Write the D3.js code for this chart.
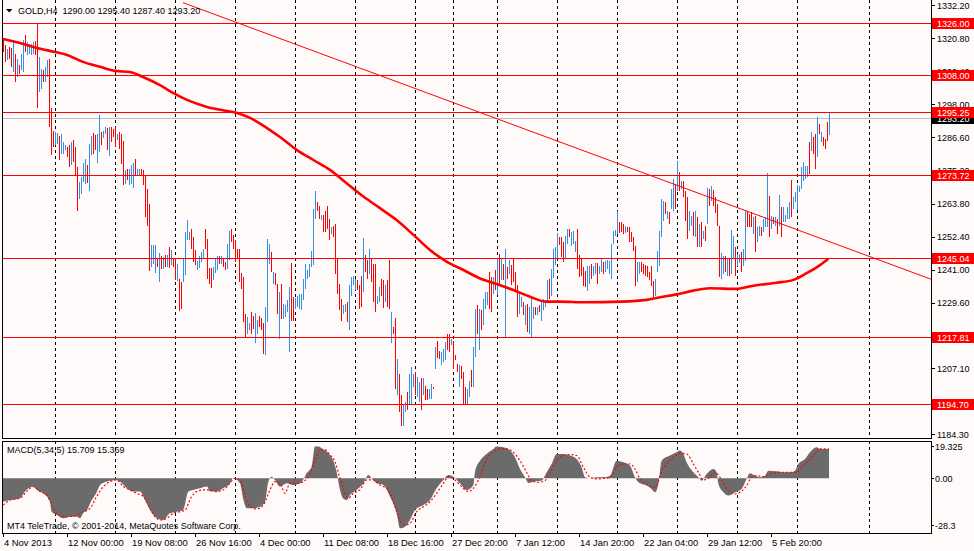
<!DOCTYPE html>
<html>
<head>
<meta charset="utf-8">
<script src="https://cdn.jsdelivr.net/npm/d3@7"></script>
<style>
html, body { margin: 0; padding: 0; background: #fffafa; }
svg { display: block; font-family: "Liberation Sans", Arial, sans-serif; }
</style>
</head>
<body>
<svg id="chart" width="974" height="551"></svg>
<script>
// GOLD H4 bars, one entry per bar (high, low, 1 = up bar / 0 = down bar)
const barHigh = [
  1320.6,1318.3,1317.2,1317.7,1317.4,1319.5,1315.4,1313.7,1311.4,1315.4,
  1320.0,1322.0,1319.5,1318.9,1318.9,1319.5,1319.8,1325.8,1314.3,1310.3,
  1309.7,1310.9,1313.1,1313.7,1296.7,1288.7,1288.5,1288.2,1287.1,1287.9,
  1285.0,1283.9,1283.3,1283.9,1285.0,1285.6,1283.3,1276.4,1271.2,1273.0,
  1277.6,1279.3,1277.0,1284.4,1287.1,1288.1,1287.3,1287.9,1294.4,1288.5,
  1288.7,1290.2,1289.9,1290.2,1290.2,1289.6,1290.2,1287.9,1288.5,1287.9,
  1285.3,1275.3,1275.8,1275.8,1277.0,1277.6,1279.1,1275.6,1275.6,1275.8,
  1275.3,1273.5,1268.7,1263.6,1249.4,1249.4,1249.4,1244.8,1246.9,1245.8,
  1245.4,1246.0,1246.2,1248.9,1247.7,1244.8,1244.8,1242.8,1237.9,1236.8,
  1245.1,1254.0,1258.0,1254.0,1255.2,1252.3,1247.9,1244.0,1245.8,1247.1,
  1248.3,1254.9,1251.5,1241.6,1241.6,1242.0,1244.8,1245.8,1245.8,1245.8,
  1244.8,1243.7,1250.0,1254.4,1254.9,1252.9,1251.2,1248.3,1248.3,1239.7,
  1238.5,1225.6,1224.8,1222.5,1226.5,1225.0,1226.2,1223.6,1225.1,1224.2,
  1222.5,1228.2,1251.7,1250.0,1247.1,1240.3,1239.7,1236.2,1233.4,1236.2,
  1229.3,1228.7,1230.4,1235.0,1243.4,1231.6,1231.2,1232.1,1232.7,1232.7,
  1237.9,1243.0,1240.8,1243.0,1247.6,1262.0,1268.0,1264.3,1263.1,1259.9,
  1259.9,1261.4,1263.1,1258.5,1255.7,1256.0,1256.8,1245.0,1236.2,1231.0,
  1228.9,1229.3,1229.8,1235.6,1238.5,1238.8,1237.9,1237.3,1235.6,1239.0,
  1252.0,1246.1,1244.2,1248.2,1244.8,1243.0,1243.0,1232.1,1235.0,1237.9,
  1237.3,1235.6,1237.3,1244.4,1226.4,1221.2,1224.5,1210.3,1205.2,1197.7,
  1194.8,1195.4,1198.9,1205.2,1207.5,1205.2,1205.7,1204.0,1202.3,1203.7,
  1203.7,1201.1,1200.0,1200.0,1201.7,1200.6,1214.3,1216.3,1213.0,1212.6,
  1213.8,1216.1,1218.9,1218.9,1217.2,1216.6,1211.5,1208.6,1208.3,1207.7,
  1205.7,1200.6,1200.0,1202.5,1206.3,1214.3,1227.6,1228.7,1227.6,1227.0,
  1231.0,1233.3,1233.3,1240.2,1238.5,1238.5,1240.8,1245.1,1246.5,1244.8,
  1243.0,1248.2,1241.9,1244.2,1242.5,1245.1,1240.2,1235.6,1233.3,1231.6,
  1229.8,1228.7,1229.3,1228.1,1232.1,1228.1,1228.1,1228.1,1228.7,1229.8,
  1231.0,1230.4,1237.3,1237.9,1241.3,1248.2,1248.8,1253.6,1252.2,1252.2,
  1250.4,1252.7,1255.0,1255.0,1253.9,1254.4,1251.0,1255.0,1246.1,1244.9,
  1241.8,1240.7,1242.4,1242.4,1243.0,1242.4,1243.2,1243.3,1242.4,1244.7,
  1243.5,1244.1,1244.5,1244.1,1249.9,1254.4,1254.8,1261.1,1257.3,1257.3,
  1256.7,1255.9,1255.6,1255.6,1254.1,1252.2,1249.3,1243.5,1243.5,1243.5,
  1243.0,1242.7,1242.4,1240.1,1242.4,1237.2,1237.8,1247.6,1254.4,1265.4,
  1264.8,1264.2,1261.3,1260.8,1268.8,1272.3,1270.5,1278.6,1274.5,1271.7,
  1271.7,1268.2,1265.9,1261.3,1259.6,1260.8,1261.3,1259.0,1256.7,1257.3,
  1254.4,1256.2,1269.0,1268.8,1269.7,1268.4,1265.9,1263.6,1256.2,1246.7,
  1245.8,1245.8,1244.7,1244.7,1254.8,1252.7,1248.7,1246.4,1246.4,1247.0,
  1248.2,1261.3,1261.3,1260.2,1261.0,1259.0,1259.6,1255.6,1256.2,1255.6,
  1258.5,1259.0,1274.3,1266.3,1259.4,1259.0,1259.0,1258.5,1266.7,1262.5,
  1262.5,1259.9,1262.5,1264.2,1271.9,1265.9,1267.7,1270.2,1269.9,1276.3,
  1278.0,1276.8,1276.8,1284.9,1288.3,1286.6,1287.7,1293.5,1291.2,1288.3,
  1286.6,1286.0,1292.0,1295.4
];
const barLow = [
  1316.0,1312.6,1313.1,1313.7,1310.9,1309.1,1305.7,1307.4,1308.6,1309.7,
  1309.1,1316.0,1314.9,1315.4,1314.9,1315.4,1314.9,1296.7,1302.2,1303.4,
  1305.7,1305.7,1307.4,1290.2,1280.4,1283.3,1283.9,1284.4,1278.7,1281.0,
  1281.0,1282.2,1279.9,1276.4,1277.0,1278.1,1273.5,1261.1,1265.5,1267.2,
  1271.2,1270.7,1271.0,1268.0,1280.4,1281.0,1282.2,1277.9,1281.6,1283.9,
  1286.4,1287.9,1282.2,1280.2,1285.0,1286.7,1283.3,1285.6,1282.7,1277.3,
  1270.1,1270.7,1271.8,1270.1,1270.7,1269.0,1273.5,1273.3,1273.5,1273.3,
  1270.1,1259.2,1256.1,1240.5,1242.0,1243.1,1239.7,1242.0,1236.8,1241.2,
  1241.4,1242.0,1242.0,1241.6,1242.5,1242.0,1237.3,1237.0,1226.8,1227.4,
  1236.8,1239.3,1251.2,1251.2,1248.3,1243.7,1242.5,1240.8,1241.6,1243.7,
  1244.8,1248.3,1237.7,1236.2,1234.7,1237.4,1239.7,1240.8,1242.8,1243.1,
  1242.0,1240.8,1241.2,1244.3,1250.6,1248.3,1243.7,1244.8,1236.8,1234.5,
  1223.0,1217.9,1219.0,1220.2,1219.0,1220.7,1215.6,1219.0,1221.3,1220.2,
  1212.1,1211.6,1223.0,1243.1,1240.3,1236.2,1235.7,1225.9,1217.3,1224.1,
  1224.1,1224.7,1226.4,1212.6,1223.5,1223.2,1227.6,1228.1,1227.6,1227.0,
  1230.4,1234.4,1237.9,1238.5,1241.9,1242.5,1258.5,1261.4,1258.5,1258.0,
  1254.0,1254.0,1255.1,1251.1,1253.4,1252.2,1239.6,1232.7,1227.0,1223.5,
  1225.8,1226.4,1223.0,1220.4,1232.1,1235.6,1233.9,1233.9,1227.3,1228.1,
  1233.3,1240.2,1237.9,1239.6,1236.7,1229.8,1226.6,1229.3,1229.8,1232.1,
  1227.8,1229.8,1228.1,1227.3,1215.8,1218.9,1200.0,1197.7,1192.0,1187.1,
  1187.1,1192.0,1192.5,1194.3,1194.8,1200.6,1197.7,1197.1,1195.4,1192.5,
  1197.7,1196.0,1196.0,1196.6,1196.6,1200.0,1206.9,1210.6,1210.3,1208.3,
  1209.2,1209.8,1213.2,1212.6,1214.9,1206.9,1209.8,1205.7,1200.6,1203.4,
  1194.8,1194.8,1194.3,1197.1,1200.6,1200.6,1210.9,1218.9,1213.5,1220.1,
  1221.8,1227.6,1228.7,1227.6,1226.4,1232.7,1233.9,1232.4,1235.6,1237.3,
  1237.3,1217.8,1237.9,1239.6,1235.6,1236.7,1233.3,1224.7,1225.8,1228.1,
  1225.3,1221.8,1219.5,1218.9,1217.8,1224.1,1225.3,1225.3,1226.4,1223.2,
  1227.0,1228.1,1229.8,1231.0,1232.1,1238.1,1242.5,1244.8,1249.4,1245.3,
  1243.5,1244.7,1249.9,1252.2,1249.3,1249.9,1247.0,1241.2,1238.4,1239.0,
  1235.5,1234.9,1233.8,1236.1,1237.8,1239.0,1239.5,1236.1,1239.5,1240.1,
  1239.5,1240.1,1241.2,1239.5,1237.8,1249.9,1252.7,1253.3,1253.6,1253.9,
  1253.3,1253.6,1253.9,1250.4,1250.4,1247.6,1235.5,1236.7,1239.5,1240.1,
  1239.5,1239.0,1238.4,1237.5,1235.5,1231.5,1232.1,1240.1,1242.4,1252.2,
  1257.9,1260.2,1258.5,1256.7,1261.9,1261.3,1261.9,1268.2,1268.2,1268.8,
  1265.9,1257.9,1251.6,1254.4,1256.2,1252.7,1252.2,1248.7,1248.7,1248.7,
  1251.6,1251.0,1256.7,1263.0,1264.8,1263.0,1260.5,1256.2,1238.4,1237.8,
  1239.5,1240.1,1238.7,1239.0,1239.5,1244.7,1239.0,1242.4,1243.3,1240.1,
  1242.4,1244.1,1255.6,1255.6,1255.6,1253.3,1247.0,1250.4,1252.7,1252.7,
  1253.9,1255.6,1255.6,1252.2,1255.0,1256.7,1256.2,1253.3,1256.2,1252.2,
  1257.3,1257.3,1258.5,1258.5,1259.0,1261.9,1264.2,1261.7,1267.7,1268.8,
  1271.7,1272.3,1272.8,1274.0,1282.0,1280.8,1275.7,1279.7,1287.7,1284.9,
  1283.7,1282.6,1285.4,1287.4
];
const barUp = [
  0,0,1,0,0,1,0,1,0,1, 1,0,1,1,1,1,0,0,1,1, 0,1,1,0,0,0,1,1,0,1,
  1,1,0,0,1,0,0,0,1,1, 1,1,0,1,1,0,0,1,1,0, 1,1,0,1,0,0,0,1,0,0,
  0,1,0,1,1,1,0,1,1,0, 0,0,0,0,1,1,1,0,1,0, 1,0,1,0,1,0,0,1,0,0,
  1,1,1,1,0,0,0,1,1,1, 1,0,0,0,0,1,1,1,0,1, 0,0,1,1,0,0,0,0,0,0,
  0,0,1,1,0,0,1,1,0,0, 0,1,1,1,0,1,0,0,1,0, 1,1,1,1,0,0,1,1,1,1,
  1,1,1,1,1,1,1,0,0,1, 0,0,0,0,1,0,0,0,0,0, 1,1,0,1,1,1,1,0,0,0,
  1,0,0,1,0,0,0,1,1,0, 0,1,0,0,1,0,0,1,0,0, 1,1,0,1,1,1,0,1,1,0,
  1,0,0,1,1,0,1,0,0,1, 1,1,0,0,1,0,0,0,1,0, 0,0,1,1,0,1,1,0,1,0,
  1,1,1,0,0,1,0,1,0,1, 0,1,0,1,0,0,0,0,1,1, 0,1,0,1,1,1,0,1,0,1,
  1,1,1,0,1,1,1,1,0,0, 0,1,1,0,1,1,1,0,0,0, 0,0,1,1,0,1,1,0,1,1,
  0,1,1,1,1,1,1,1,0,0, 0,1,0,0,0,0,0,1,1,0, 0,0,0,0,0,0,1,1,1,1,
  1,0,1,0,1,1,0,1,0,1, 0,0,0,1,1,0,1,0,1,0, 1,0,1,0,1,0,0,0,0,1,
  1,0,1,0,1,1,0,1,1,0, 1,1,0,0,0,1,0,1,1,0, 1,1,1,0,1,0,1,0,1,0,
  1,1,1,1,0,1,1,1,1,1, 1,1,1,0,1,0,0,1,0,1, 0,0,0,1
];

// 55-period moving average, read at sample bars
const maIdx = [0,8.5,17,26,32,40,48.5,56,63.5,70,78.5,85,92,102,112,117,123.5,132,138.5,
  146.8,155.2,163.5,171.8,180.2,188.5,196.8,205.2,213.5,221.8,230.2,238.5,246.8,255.2,263.5,271.8,278.5,
  291,309.3,321.8,328.5,336.8,345.2,353.5,366.8,375.2,386.8,395.2,401.8,408.5,412.7];
const maVal = [1320.5,1319.1,1317.4,1316.0,1315.0,1312.6,1310.9,1309.5,1309.1,1307.4,1304.6,1301.9,1299.5,1297.1,1295.7,1295.0,1293.3,1289.8,1286.7,
  1282.3,1278.8,1275.4,1270.8,1266.2,1262.2,1258.1,1253.0,1247.8,1243.8,1240.9,1238.0,1236.1,1234.0,1231.7,1230.0,1230.0,
  1229.8,1230.0,1230.6,1231.5,1232.5,1233.8,1234.6,1234.4,1235.5,1236.5,1237.5,1239.8,1242.6,1244.8];

// trend line anchors (bar index, price)
const trendIdx = [90, 433.5];
const trendVal = [1333.0, 1245.5];

// horizontal levels
const levels = [1326.00, 1308.00, 1295.25, 1273.72, 1245.04, 1217.81, 1194.70];
const bidPrice = 1293.20;
// 1218.20 sits fully under the 1217.81 tag, so it is not listed
const priceTicks = [1332.20,1320.80,1309.40,1298.00,1286.60,1275.20,1263.80,1252.40,1241.00,1229.60,1207.10,1195.70,1184.30];

// MACD(5,34,5) histogram and signal, read at sample bars
const macdIdx = [0,3.5,8.5,11,15,17,20,23.5,24.3,27,30,33.5,37,38.5,40,42,43.5,47,48.5,52,56,58.5,62,65,68.5,71,73.5,77,80,83.5,87,90,92.7,95,98.5,
  102,103.5,107,110,113.5,115,118.5,120,122,125,128.5,131,132.7,134.3,136,138.5,141.8,145,148.5,150,151.8,154.3,156,157.7,159.3,162.7,165,166.8,168.5,170,171.8,173.5,176.8,
  180.2,182.7,184.3,186.8,190.2,193.5,196.8,198.5,201,203.5,206,210.2,213.5,216.8,220.2,222.7,225.2,228.5,231.8,235.2,236,
  238.5,241.8,245.2,246.8,250.2,253.5,256,258.5,261,262.7,266,269.3,271.8,274.3,276.8,280.2,283.5,286.8,289.3,291,293.5,296.8,300.2,303.5,306.8,310.2,313.5,316,317.7,
  321.8,324.3,326,327.7,329.3,333.5,336.8,338.5,340.2,341.8,345.2,347.7,349.3,351.8,355.2,356.8,357.7,360.2,362.7,366,369.3,371.8,373.5,376,378.5,381,382.7,386.8,390.2,393.5,396,397.7,401,403.5,406.8,408.5,411,413];
const macdVal = [-14.1,-13.1,-12.0,-8.0,-5.0,-7.0,-9.0,-14.1,-20.1,-22.1,-24.1,-23.1,-23.1,-24.1,-21.1,-19.1,-15.1,-8.0,-4.0,-2.0,-1.0,-2.0,-6.0,-8.0,-8.0,-13.1,-19.1,-24.1,-25.1,-21.1,-20.1,-19.1,-8.0,-7.0,-6.0,
  -5.0,-8.0,-8.0,-6.0,-3.0,0,-3.0,-12.0,-18.1,-18.1,-17.1,-14.1,-2.0,1.0,-1.0,-5.0,-3.0,-4.0,-3.0,-1.0,3.0,7.0,19.1,19.1,18.1,15.1,11.0,4.0,-7.0,-12.0,-13.1,-10.0,-7.0,
  -3.0,2.0,0,-3.0,-4.0,-11.0,-21.1,-30.1,-29.1,-25.1,-19.1,-16.1,-13.1,-6.0,-1.0,2.0,1.0,-3.0,-7.0,-4.0,4.0,
  10.6,14.7,17.7,19.1,18.7,16.7,12.7,5.6,0.6,-2.8,-1.8,-1.4,3.6,8.6,14.7,14.7,13.7,11.6,6.6,0.6,0,0.6,0.6,1.6,10.6,9.6,7.6,0.6,-2.4,
  -4.4,-6.4,-8.4,-3.4,10.6,13.7,15.7,16.7,14.7,9.6,3.6,0.6,-1.4,2.6,5.6,3.6,-3.4,-8.4,-10.4,-8.4,-6.4,-0.4,3.0,1.6,0.6,1.6,4.6,4.2,3.6,3.6,4.6,8.6,11.6,15.7,18.7,17.7,17.7,17.7];
const signalIdx = [0,3.5,8.5,11.8,15.2,18.5,21.8,25.2,27.7,31.8,36.8,40.2,43.5,46.8,50.2,53.5,56.8,60.2,63.5,66.8,70.2,73.5,76.8,78.5,81.8,85.2,88.5,91,94.3,96.8,
  100.2,103.5,106.8,110.2,113.5,116,118.5,121,123.5,126.8,130.2,133.5,136,138.5,141,143.5,146.8,150.2,153.5,156,158.5,161,163.5,166,168.5,171,172.7,175.2,178.5,
  181.8,185.2,188.5,192.7,196,198.5,201,203.5,206.8,210.2,213.5,216.8,220.2,222.7,226,229.3,232.7,235.2,238.5,
  241.8,245.2,248.5,251.8,255.2,258.5,261.8,264.3,267.7,271,273.5,276.8,280.2,283.5,286.8,290.2,293.5,296.8,300.2,303.5,306.8,310.2,313.5,316,318.5,
  321.8,325.2,326.8,329.3,331.8,335.2,338.5,341.8,345.2,347.7,350.2,353.5,356,358.5,361.8,365.2,368.5,371.8,374.3,376.8,380.2,383.5,388.5,393.5,396.8,399.3,402.7,406,408.5,413];
const signalVal = [-16.1,-13.1,-12.0,-8.0,-5.0,-8.0,-10.0,-18.1,-22.1,-23.1,-22.1,-20.1,-18.1,-11.0,-5.0,-2.0,-1.0,-5.0,-7.0,-9.0,-11.0,-18.1,-24.1,-25.1,-24.1,-21.1,-20.1,-19.1,-11.0,-8.0,
  -7.0,-7.0,-8.0,-7.0,-3.0,0,-1.0,-10.0,-17.1,-18.5,-16.1,-7.0,-2.0,-3.0,-9.0,-3.0,-3.0,-2.0,3.0,11.0,17.1,17.1,14.1,10.0,0,-9.0,-12.0,-9.0,-7.0,
  -1.0,-1.0,-4.0,-7.0,-17.1,-25.1,-28.1,-27.1,-20.1,-17.1,-14.1,-9.0,-3.0,1.0,-1.0,-5.0,-8.0,-6.0,1.0,
  11.6,15.7,17.7,17.7,15.7,10.6,3.6,-1.4,-2.4,-1.4,3.6,10.6,13.7,14.3,13.7,6.6,0.6,-0.4,0,0.6,6.6,8.6,8.6,5.6,-0.4,
  -3.4,-5.4,-4.4,4.6,8.6,12.7,15.1,14.7,8.6,3.6,-1.0,0.6,3.6,0.6,-6.4,-9.4,-8.4,-4.4,0.6,1.6,1.0,2.6,3.6,3.6,3.6,6.6,10.6,14.7,17.7,17.7];
const macdTicks = [19.325, 0, -28.3];
const macdTickText = ["19.325", "0.00", "-28.3"];

// time axis
const gridIdx = [26,56,86,116,146,176,206,225,247,277,307,337,367,397,433];
const timeIdx = [0,32,64,96,128,160,192,224,256,288,320,352,384];
const timeText = ["4 Nov 2013","12 Nov 00:00","19 Nov 08:00","26 Nov 16:00","4 Dec 00:00","11 Dec 08:00",
  "18 Dec 16:00","27 Dec 20:00","7 Jan 12:00","14 Jan 20:00","22 Jan 04:00","29 Jan 12:00","5 Feb 20:00"];

const UP = "#3490e4", DOWN = "#ff0000", HLINE = "#ff0000";

const svg = d3.select("#chart");
const left = 2, right = 931;
const priceTop = 0, priceBottom = 438;
const macdTop = 441, macdBottom = 533;

const x = d3.scaleLinear().domain([0, 413]).range([3, 829]);
const y = d3.scaleLinear().domain([1184.3, 1332.2]).range([434.3, 5]);
const ym = d3.scaleLinear().domain([0, 19.325]).range([478.3, 446.2]);
const px = v => Math.round(v) + 0.5;

svg.append("rect").attr("width", 974).attr("height", 551).attr("fill", "#fffafa");

const defs = svg.append("defs");
defs.append("clipPath").attr("id", "clipPrice").append("rect")
  .attr("x", left + 1).attr("y", priceTop).attr("width", right - left - 1).attr("height", priceBottom - priceTop);
defs.append("clipPath").attr("id", "clipMacd").append("rect")
  .attr("x", left + 1).attr("y", macdTop + 1).attr("width", right - left - 1).attr("height", macdBottom - macdTop - 1);

const pricePanel = svg.append("g").attr("clip-path", "url(#clipPrice)");
const macdPanel = svg.append("g").attr("clip-path", "url(#clipMacd)");

// vertical dashed grid
[[pricePanel, priceTop, priceBottom], [macdPanel, macdTop, macdBottom]].forEach(([g, t, b]) => {
  g.selectAll(".grid").data(gridIdx).enter().append("line")
    .attr("x1", d => px(x(d))).attr("x2", d => px(x(d)))
    .attr("y1", t).attr("y2", b)
    .attr("stroke", "#000").attr("stroke-dasharray", "3,3")
    .attr("shape-rendering", "crispEdges");
});

// bid line
pricePanel.append("line")
  .attr("x1", left).attr("x2", right)
  .attr("y1", px(y(bidPrice))).attr("y2", px(y(bidPrice)))
  .attr("stroke", "#c0c0c0").attr("shape-rendering", "crispEdges");

// price bars
const bars = d3.range(barHigh.length);
pricePanel.selectAll(".bar").data(bars).enter().append("line")
  .attr("x1", i => px(x(i))).attr("x2", i => px(x(i)))
  .attr("y1", i => Math.round(y(barHigh[i])))
  .attr("y2", i => Math.max(Math.round(y(barLow[i])), Math.round(y(barHigh[i])) + 1))
  .attr("stroke", i => barUp[i] ? UP : DOWN)
  .attr("stroke-width", 1)
  .attr("shape-rendering", "crispEdges");

// horizontal levels
pricePanel.selectAll(".level").data(levels).enter().append("line")
  .attr("x1", left).attr("x2", right)
  .attr("y1", d => px(y(d))).attr("y2", d => px(y(d)))
  .attr("stroke", HLINE).attr("stroke-width", 1)
  .attr("shape-rendering", "crispEdges");

// moving average
const maLine = d3.line()
  .x((d, k) => x(maIdx[k]))
  .y(d => y(d))
  .curve(d3.curveMonotoneX);
pricePanel.append("path")
  .datum(maVal)
  .attr("d", maLine)
  .attr("fill", "none")
  .attr("stroke", "#ff0000")
  .attr("stroke-width", 2.6);

// trend line, extended to the right edge
const slope = (trendVal[1] - trendVal[0]) / (trendIdx[1] - trendIdx[0]);
const endIdx = x.invert(right);
pricePanel.append("line")
  .attr("x1", x(trendIdx[0])).attr("y1", y(trendVal[0]))
  .attr("x2", x(endIdx)).attr("y2", y(trendVal[0] + slope * (endIdx - trendIdx[0])))
  .attr("stroke", "#ff0000").attr("stroke-width", 1);

// MACD histogram and signal
const macdArea = d3.area()
  .x((d, k) => x(macdIdx[k]))
  .y0(ym(0))
  .y1(d => ym(d))
  .curve(d3.curveMonotoneX);
macdPanel.append("path")
  .datum(macdVal)
  .attr("d", macdArea)
  .attr("fill", "#6b6b6b");

const signalLine = d3.line()
  .x((d, k) => x(signalIdx[k]))
  .y(d => ym(d))
  .curve(d3.curveMonotoneX);
macdPanel.append("path")
  .datum(signalVal)
  .attr("d", signalLine)
  .attr("fill", "none")
  .attr("stroke", "#ff0000")
  .attr("stroke-width", 1.2)
  .attr("stroke-dasharray", "2,2");

// panel frames
[[priceTop - 1, priceBottom], [macdTop, macdBottom]].forEach(([t, b]) => {
  svg.append("rect")
    .attr("x", left + 0.5).attr("y", t + 0.5)
    .attr("width", right - left).attr("height", b - t)
    .attr("fill", "none").attr("stroke", "#000")
    .attr("shape-rendering", "crispEdges");
});

// price axis labels
const axisFont = 9;
svg.selectAll(".ptick").data(priceTicks).enter().append("line")
  .attr("x1", right).attr("x2", right + 4)
  .attr("y1", d => px(y(d))).attr("y2", d => px(y(d)))
  .attr("stroke", "#000").attr("shape-rendering", "crispEdges");
svg.selectAll(".plabel").data(priceTicks).enter().append("text")
  .attr("x", 937).attr("y", d => y(d) + 3.5)
  .attr("font-size", axisFont).attr("fill", "#000")
  .text(d => d.toFixed(2));

// price tags: bid first, level tags above it
const tag = (v, fill) => {
  const cy = Math.round(y(v));
  svg.append("rect")
    .attr("x", right + 1).attr("y", cy - 5).attr("width", 974 - right - 1).attr("height", 11)
    .attr("fill", fill);
  svg.append("text")
    .attr("x", 937).attr("y", cy + 4)
    .attr("font-size", axisFont).attr("fill", "#fff")
    .text(v.toFixed(2));
};
tag(bidPrice, "#000");
levels.forEach(v => tag(v, "#ff0000"));

// MACD axis labels
svg.selectAll(".mtick").data(macdTicks).enter().append("line")
  .attr("x1", right).attr("x2", right + 3)
  .attr("y1", d => px(ym(d))).attr("y2", d => px(ym(d)))
  .attr("stroke", "#000").attr("shape-rendering", "crispEdges");
svg.selectAll(".mlabel").data(macdTicks).enter().append("text")
  .attr("x", 935).attr("y", d => ym(d) + 3.5)
  .attr("font-size", axisFont).attr("fill", "#000")
  .text((d, k) => macdTickText[k]);

// time axis
svg.selectAll(".ttick").data(timeIdx).enter().append("line")
  .attr("x1", d => px(x(d))).attr("x2", d => px(x(d)))
  .attr("y1", macdBottom).attr("y2", macdBottom + 4)
  .attr("stroke", "#000").attr("shape-rendering", "crispEdges");
svg.selectAll(".tlabel").data(timeIdx).enter().append("text")
  .attr("x", d => x(d) + 1).attr("y", 546)
  .attr("font-size", 9.4).attr("fill", "#000")
  .text((d, k) => timeText[k]);

// titles
svg.append("path").attr("d", "M6,9 L12.5,9 L9.25,12.5 Z").attr("fill", "#000");
svg.append("text").attr("x", 18).attr("y", 14).attr("font-size", axisFont).attr("fill", "#000")
  .attr("xml:space", "preserve")
  .text("GOLD,H4  1290.00 1295.40 1287.40 1293.20");
svg.append("text").attr("x", 7).attr("y", 453).attr("font-size", axisFont).attr("fill", "#000")
  .text("MACD(5,34,5) 15.709 15.369");
svg.append("text").attr("x", 7).attr("y", 529).attr("font-size", axisFont).attr("fill", "#000")
  .text("MT4 TeleTrade, \u00a9 2001-2014, MetaQuotes Software Corp.");

if (barHigh.length !== barLow.length || barHigh.length !== barUp.length) {
  console.error("bar arrays differ", barHigh.length, barLow.length, barUp.length);
}
</script>
</body>
</html>
